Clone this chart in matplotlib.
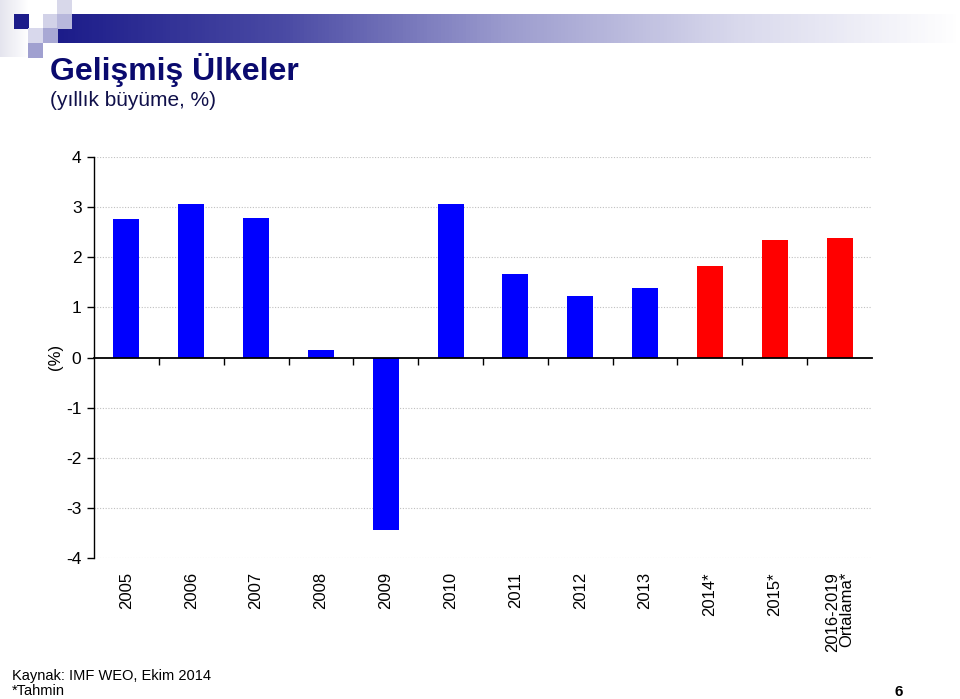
import numpy as np
import matplotlib
matplotlib.use("Agg")
import matplotlib.pyplot as plt
from matplotlib.colors import LinearSegmentedColormap
from matplotlib.patches import Rectangle
import matplotlib.transforms as mtransforms

plt.rcParams['font.family'] = ['Liberation Sans', 'DejaVu Sans']

categories = ["2005", "2006", "2007", "2008", "2009", "2010", "2011", "2012",
              "2013", "2014*", "2015*", "2016-2019\nOrtalama*"]
growth = [2.76, 3.06, 2.78, 0.14, -3.44, 3.06, 1.66, 1.22, 1.38, 1.82, 2.34, 2.38]
is_forecast = [False] * 9 + [True] * 3
yticks = [-4, -3, -2, -1, 0, 1, 2, 3, 4]

title = "Gelişmiş Ülkeler"
subtitle = "(yıllık büyüme, %)"
source = "Kaynak: IMF WEO, Ekim 2014"
note = "*Tahmin"
page = "6"

W, H = 960, 699
fig = plt.figure(figsize=(W / 100, H / 100), dpi=100)

# ---- header decoration (pixel coordinates) ----
hdr = fig.add_axes([0, 0, 1, 1], zorder=0)
hdr.set_xlim(0, W)
hdr.set_ylim(H, 0)
hdr.axis('off')
cmap = LinearSegmentedColormap.from_list('hdr', ['#1c1c8a', '#4a4aa4', '#9c9cce', '#d8d8ec', '#ffffff'])
grad = np.linspace(0, 1, 256).reshape(1, -1)
hdr.imshow(grad, cmap=cmap, extent=[57, 960, 43, 14], aspect='auto', zorder=1)
edge = LinearSegmentedColormap.from_list('edge', ['#e4e4ee', '#ffffff'])
hdr.imshow(grad, cmap=edge, extent=[0, 28, 57, 0], aspect='auto', zorder=1)
squares = [
    (14, 14, '#1c1c8a'),
    (57, 0, '#d8d8ea'),
    (43, 14, '#d2d2e8'),
    (57, 14, '#b8b8dc'),
    (28, 28, '#d8d8ec'),
    (43, 28, '#a8a8d4'),
    (28, 43, '#a0a0d0'),
]
for x, y, c in squares:
    hdr.add_patch(Rectangle((x, y), 14.5, 14.5, color=c, zorder=2, lw=0))

fig.text(50 / W, 1 - 70 / H, title, fontsize=23, fontweight='bold', color='#0a0a6e',
         ha='left', va='center')
fig.text(50 / W, 1 - 100 / H, subtitle, fontsize=15, color='#10104a',
         ha='left', va='center')

# ---- main chart ----
left, right, top, bottom = 94 / W, 872 / W, 1 - 157 / H, 1 - 558 / H
ax = fig.add_axes([left, bottom, right - left, top - bottom], zorder=2)
ax.patch.set_alpha(0)
x = np.arange(len(categories))
colors = ['#ff0000' if f else '#0000ff' for f in is_forecast]
ax.bar(x, growth, width=0.4, color=colors, zorder=3)

ax.set_xlim(-0.5, len(categories) - 0.5)
ax.set_ylim(-4, 4)
ax.set_yticks(yticks)
ax.set_yticklabels([str(v) for v in yticks], fontsize=12.5)
ax.tick_params(axis='y', direction='out', length=5, width=1, pad=4, colors='black')
for v in yticks:
    if v != 0:
        ax.axhline(v, color='#c0c0c0', lw=0.8, ls=(0, (1, 1.5)), zorder=1)

for s in ['top', 'right']:
    ax.spines[s].set_visible(False)
ax.spines['left'].set_linewidth(1)
ax.spines['bottom'].set_position(('data', 0))
ax.spines['bottom'].set_linewidth(1.3)
ax.spines['bottom'].set_zorder(4)
ax.set_xticks(x[:-1] + 0.5)
ax.set_xticklabels([])
ax.tick_params(axis='x', direction='out', length=5, width=1)

trans = mtransforms.blended_transform_factory(ax.transData, ax.transAxes)
for xi, lab in zip(x, categories):
    ax.text(xi, -0.035, lab, transform=trans, rotation=90, ha='center', va='top',
            multialignment='right', fontsize=12, linespacing=0.95)

fig.text(55 / W, 1 - 357 / H, "(%)", rotation=90, fontsize=12, ha='center', va='center')

fig.text(12 / W, 1 - 676 / H, source, fontsize=10.5, ha='left', va='center')
fig.text(12 / W, 1 - 691 / H, note, fontsize=10.5, ha='left', va='center')
fig.text(899 / W, 1 - 692 / H, page, fontsize=11, fontweight='bold', ha='center', va='center')

fig.savefig("out.png", dpi=100)
